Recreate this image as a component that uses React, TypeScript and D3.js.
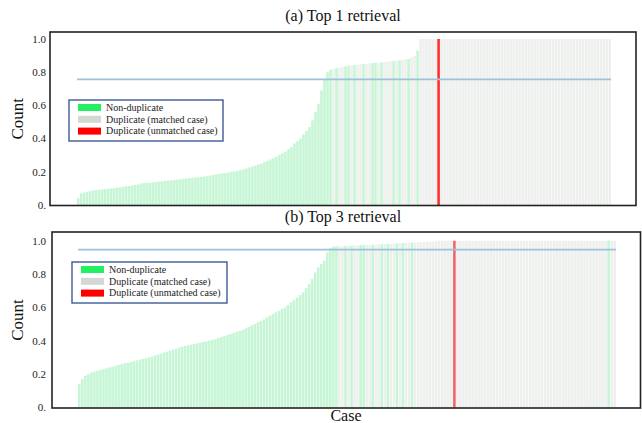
import React from 'react';
import * as d3 from 'd3';

// sorted similarity per case, (a) top 1 retrieval
const top1Values = [
  0.04, 0.07, 0.075, 0.08, 0.085, 0.087, 0.09, 0.092, 0.094, 0.096, 0.098, 0.10,
  0.102, 0.105, 0.107, 0.11, 0.113, 0.115, 0.118, 0.121, 0.124, 0.13,
  0.132, 0.134, 0.135, 0.137, 0.139, 0.141, 0.143, 0.145, 0.147, 0.149, 0.151, 0.153, 0.155,
  0.158, 0.16, 0.162, 0.164, 0.166, 0.168, 0.17, 0.172, 0.175, 0.178,
  0.182, 0.185, 0.188, 0.19, 0.193, 0.196, 0.2, 0.203, 0.206, 0.21,
  0.214, 0.22, 0.226, 0.232, 0.238, 0.245, 0.25,
  0.258, 0.266, 0.274, 0.282, 0.292, 0.302, 0.312,
  0.322, 0.336, 0.35, 0.37,
  0.385, 0.40, 0.425, 0.445,
  0.47, 0.51, 0.56, 0.61, 0.69,
  0.76, 0.80, 0.815, 0.82,
  0.825, 0.828, 0.832, 0.835, 0.84, 0.842, 0.843, 0.845, 0.847, 0.849, 0.851, 0.853, 0.855, 0.857, 0.858, 0.86,
  0.862, 0.864, 0.866, 0.868, 0.87, 0.872, 0.875, 0.878, 0.88,
  0.89, 0.90, 0.93,
  1, 1, 1, 1, 1, 1, 1, 1, 1, 1, 1, 1, 1, 1, 1, 1,
  1, 1, 1, 1, 1, 1, 1, 1, 1, 1, 1, 1, 1, 1, 1, 1,
  1, 1, 1, 1, 1, 1, 1, 1, 1, 1, 1, 1, 1, 1, 1, 1,
  1, 1, 1, 1, 1, 1, 1, 1, 1, 1, 1, 1, 1, 1, 1, 1,
];

// (b) top 3 retrieval
const top3Values = [
  0.14, 0.17, 0.19, 0.20, 0.21, 0.215, 0.22, 0.225, 0.23, 0.235, 0.24, 0.245, 0.25, 0.255, 0.26,
  0.264, 0.268, 0.273, 0.277, 0.282, 0.286, 0.291, 0.296, 0.30, 0.305,
  0.311, 0.317, 0.323, 0.329, 0.335, 0.341, 0.347, 0.353, 0.359, 0.365,
  0.369, 0.373, 0.377, 0.381, 0.385, 0.389, 0.393, 0.397, 0.401, 0.405,
  0.411, 0.417, 0.423, 0.429, 0.435, 0.441, 0.447, 0.453, 0.459, 0.465,
  0.474, 0.483, 0.492, 0.501, 0.51, 0.519, 0.528,
  0.54, 0.55, 0.56, 0.57, 0.58, 0.59,
  0.60, 0.615, 0.63, 0.645,
  0.66, 0.675, 0.69, 0.715,
  0.74, 0.77, 0.81,
  0.84, 0.86, 0.88,
  0.93, 0.955, 0.965,
  0.966, 0.967, 0.968, 0.969, 0.97, 0.97, 0.971, 0.972, 0.973, 0.974, 0.975, 0.975, 0.976, 0.977, 0.978, 0.979,
  0.98, 0.981, 0.982, 0.983, 0.984, 0.985, 0.986, 0.987, 0.988, 0.989, 0.99, 0.991, 0.992, 0.993, 0.994, 0.995, 0.996,
  1, 1, 1, 1, 1, 1, 1, 1, 1, 1, 1, 1, 1, 1, 1,
  1, 1, 1, 1, 1, 1, 1, 1, 1, 1, 1, 1, 1, 1, 1,
  1, 1, 1, 1, 1, 1, 1, 1, 1, 1, 1, 1, 1, 1, 1,
  1, 1, 1, 1, 1, 1, 1, 1, 1, 1, 1, 1, 1, 1, 1,
];

// n = non-duplicate, m = duplicate (matched), u = duplicate (unmatched)
const top1Types = 'n'.repeat(85) + 'mnmmnnmnmmnmmnnmnmmmnmnmmnmmn' + 'm'.repeat(6) + 'u' + 'm'.repeat(57);
const top3Types = 'n'.repeat(85) + 'nmmnmnmmnnmmnmmnmnmmnmnmmnmm' + 'm'.repeat(11) + 'u' + 'm'.repeat(50) + 'n' + 'mm';

const thresholds = [0.757, 0.946];
const titles = ['(a) Top 1 retrieval', '(b) Top 3 retrieval'];
const yTicks = [0, 0.2, 0.4, 0.6, 0.8, 1.0];
const legendItems = [
  { key: 'n', label: 'Non-duplicate', color: '#22ef62' },
  { key: 'm', label: 'Duplicate (matched case)', color: '#d3d8d3' },
  { key: 'u', label: 'Duplicate (unmatched case)', color: '#ff0000' },
];

const barColor: Record<string, string> = { n: '#c6f6d5', m: '#eef0ee' };

const font = '"Liberation Serif", "Times New Roman", serif';

function Panel({ values, types, threshold, title, frame, bars, yRange, legend, redColor }: any) {
  const x = d3.scaleBand<number>()
    .domain(d3.range(values.length))
    .range(bars)
    .paddingInner(0.15);
  const y = d3.scaleLinear().domain([0, 1]).range(yRange);

  const cy = (frame.y0 + frame.y1) / 2;

  return (
    <g>
      <text x={343} y={frame.titleY} textAnchor="middle" fontSize={16} fontFamily={font} fill="#111">{title}</text>
      {values.map((v: number, i: number) => types[i] === 'u' ? null : (
        <rect key={i} x={x(i)} y={y(v)} width={x.bandwidth()} height={y(0) - y(v)} fill={barColor[types[i]]} />
      ))}
      {values.map((v: number, i: number) => types[i] !== 'u' ? null : (
        <rect key={'u' + i} x={x(i)} y={y(v)} width={x.bandwidth()} height={y(0) - y(v)} fill={redColor} />
      ))}
      <line x1={bars[0]} x2={bars[1]} y1={y(threshold)} y2={y(threshold)} stroke="#9fc2dc" strokeWidth={1.8} />
      <rect x={frame.x0} y={frame.y0} width={frame.x1 - frame.x0} height={frame.y1 - frame.y0}
        fill="none" stroke="#222" strokeWidth={1.6} />
      {yTicks.map(t => (
        <text key={t} x={46} y={y(t)} dy="0.35em" textAnchor="end" fontSize={11} fontFamily={font} fill="#222">
          {t === 0 ? '0.' : d3.format('.1f')(t)}
        </text>
      ))}
      <text transform={`translate(23,${cy}) rotate(-90)`} textAnchor="middle" fontSize={17} fontFamily={font} fill="#111">Count</text>
      <rect x={legend.x} y={legend.y} width={legend.w} height={legend.h} fill="#fff" stroke="#3d5a96" strokeWidth={1.4} />
      {legendItems.map((d, k) => {
        const ry = legend.y + 7.5 + k * 11.8;
        return (
          <g key={d.key}>
            <rect x={legend.x + 9} y={ry - 3.5} width={23} height={7} fill={d.color} />
            <text x={legend.x + 37} y={ry} dy="0.33em" fontSize={10} fontFamily={font} fill="#222">{d.label}</text>
          </g>
        );
      })}
    </g>
  );
}

export default function App() {
  return (
    <svg width={642} height={423} style={{ position: 'absolute', left: 0, top: 0, background: '#fff' }}>
      <Panel values={top1Values} types={top1Types} threshold={thresholds[0]} title={titles[0]}
        frame={{ x0: 50, x1: 636, y0: 32, y1: 205.5, titleY: 21 }}
        bars={[77, 611]} yRange={[205, 39]}
        legend={{ x: 69, y: 100, w: 154, h: 41 }} redColor="#ff2b2b" />
      <Panel values={top3Values} types={top3Types} threshold={thresholds[1]} title={titles[1]}
        frame={{ x0: 52, x1: 640.5, y0: 232, y1: 408, titleY: 222 }}
        bars={[78, 616]} yRange={[407.5, 240.7]}
        legend={{ x: 72, y: 262, w: 155, h: 41 }} redColor="#f06565" />
      <text x={346} y={421} textAnchor="middle" fontSize={16} fontFamily={font} fill="#111">Case</text>
    </svg>
  );
}
